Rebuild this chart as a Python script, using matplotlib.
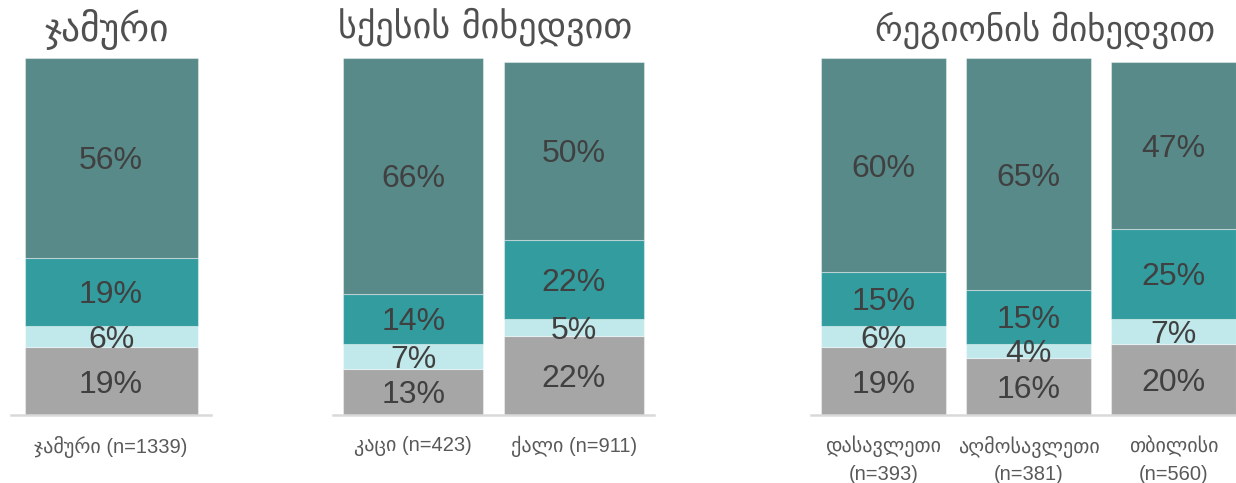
import matplotlib
matplotlib.use("Agg")
import matplotlib.pyplot as plt
import numpy as np

# ---- data ----
panel_titles = ["ჯამური", "სქესის მიხედვით", "რეგიონის მიხედვით"]

total_cats = ["ჯამური (n=1339)"]
total_s1 = [19]
total_s2 = [6]
total_s3 = [19]
total_s4 = [56]

sex_cats = ["კაცი (n=423)", "ქალი (n=911)"]
sex_s1 = [13, 22]
sex_s2 = [7, 5]
sex_s3 = [14, 22]
sex_s4 = [66, 50]

region_cats = ["დასავლეთი\n(n=393)", "აღმოსავლეთი\n(n=381)", "თბილისი\n(n=560)"]
region_s1 = [19, 16, 20]
region_s2 = [6, 4, 7]
region_s3 = [15, 15, 25]
region_s4 = [60, 65, 47]

colors = ["#a6a6a6", "#c1e9eb", "#339c9f", "#578a89"]

W, H = 1236, 483
fig = plt.figure(figsize=(W / 100, H / 100), dpi=100)

LAT = ["Liberation Sans", "DejaVu Sans"]


def ax_px(left, right, bottom_y, top_y):
    return fig.add_axes([left / W, (H - bottom_y) / H, (right - left) / W, (bottom_y - top_y) / H])


def draw_panel(ax, cats, series, width, nunits):
    x = np.arange(len(cats))
    bottom = np.zeros(len(cats))
    for vals, col in zip(series, colors):
        vals = np.array(vals, dtype=float)
        ax.bar(x, vals, width=width, bottom=bottom, color=col,
               edgecolor=(1, 1, 1, 0.4), linewidth=0.8)
        for xi, b, v in zip(x, bottom, vals):
            ax.text(xi, b + v / 2, f"{int(v)}%", ha="center", va="center_baseline",
                    fontsize=23, color="#404040", family=LAT)
        bottom += vals
    ax.set_xlim(-0.5, nunits - 0.5)
    ax.set_ylim(0, 100)
    ax.set_xticks(x)
    ax.set_xticklabels(cats, family=LAT, fontsize=14.5, color="#595959",
                       linespacing=1.5)
    ax.tick_params(axis="x", length=0, pad=15)
    ax.set_yticks([])
    for s in ["top", "left", "right"]:
        ax.spines[s].set_visible(False)
    ax.spines["bottom"].set_color("#d9d9d9")
    ax.spines["bottom"].set_linewidth(1.8)
    ax.patch.set_visible(False)


base, top = 415, 58
ax1 = ax_px(11, 211, base, top)
draw_panel(ax1, total_cats, [total_s1, total_s2, total_s3, total_s4], 0.865, 1)

ax2 = ax_px(333, 654, base, top)
draw_panel(ax2, sex_cats, [sex_s1, sex_s2, sex_s3, sex_s4], 0.872, 2)

ax3 = ax_px(811, 1246, base, top)
draw_panel(ax3, region_cats, [region_s1, region_s2, region_s3, region_s4], 0.862, 3)

title_pos = [(107, 30), (485, 27), (1045, 30)]
title_sizes = [27, 26, 25]
for t, (tx, ty), fs in zip(panel_titles, title_pos, title_sizes):
    fig.text(tx / W, 1 - ty / H, t, ha="center", va="center", fontsize=fs,
             color="#505050", family=["DejaVu Sans"])

fig.savefig("out.png", dpi=100)
